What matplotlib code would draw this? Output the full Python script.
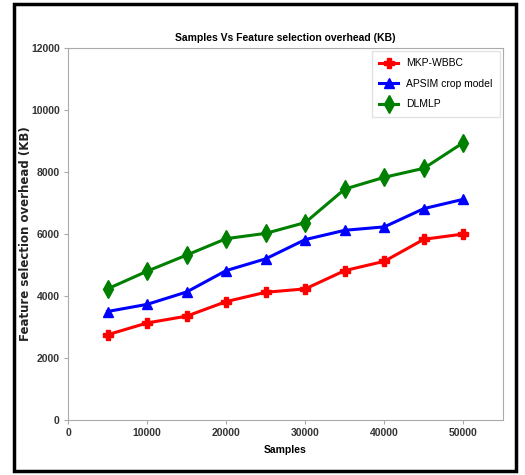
import numpy as np
import matplotlib
matplotlib.use('Agg')
from matplotlib import pyplot as plt
from matplotlib.patches import Rectangle

plt.rcParams['font.family'] = ['Liberation Sans', 'DejaVu Sans']

samples = [5000, 10000, 15000, 20000, 25000, 30000, 35000, 40000, 45000, 50000]
mkp_wbbc = [2750, 3130, 3350, 3820, 4120, 4230, 4820, 5120, 5830, 6000]
apsim = [3500, 3730, 4130, 4820, 5200, 5820, 6120, 6230, 6820, 7120]
dlmlp = [4230, 4800, 5320, 5850, 6020, 6370, 7450, 7830, 8120, 8950]

fig = plt.figure(figsize=(5.25, 4.75), dpi=100)
ax = fig.add_axes([68 / 525, 55 / 475, 435 / 525, 372 / 475])

ax.plot(samples, mkp_wbbc, color='red', marker='P', markersize=7, lw=2.2, label='MKP-WBBC')
ax.plot(samples, apsim, color='blue', marker='^', markersize=6.5, lw=2.2, label='APSIM crop model')
ax.plot(samples, dlmlp, color='green', marker='d', markersize=9, lw=2.2, label='DLMLP')

ax.set_xlim(0, 55000)
ax.set_ylim(0, 12000)
ax.set_xticks([0, 10000, 20000, 30000, 40000, 50000])
ax.set_yticks([0, 2000, 4000, 6000, 8000, 10000, 12000])
for lbl in ax.get_xticklabels() + ax.get_yticklabels():
    lbl.set_fontweight('bold')
    lbl.set_fontsize(7.5)
for s in ax.spines.values():
    s.set_color('#aaaaaa')
ax.tick_params(colors='#333333', length=3, color='#aaaaaa', pad=3)

ax.set_title('Samples Vs Feature selection overhead (KB)', fontsize=7.5, fontweight='bold', pad=5)
ax.set_xlabel('Samples', fontsize=7.5, fontweight='bold', labelpad=5)
ax.set_ylabel('Feature selection overhead (KB)', fontsize=8.5, fontweight='bold',
              family='DejaVu Sans', color='#222222')
ax.yaxis.set_label_coords(-0.083, 0.5)
ax.legend(loc='upper right', fontsize=7.5, frameon=True, edgecolor='#dddddd', fancybox=False,
          borderpad=0.7, labelspacing=1.0, handlelength=1.8, borderaxespad=0.3)

fig.patches.append(Rectangle((14 / 525, 4 / 475), 502 / 525, 467 / 475, transform=fig.transFigure,
                             fill=False, edgecolor='black', lw=2.5))

plt.savefig('out.png', dpi=100)
